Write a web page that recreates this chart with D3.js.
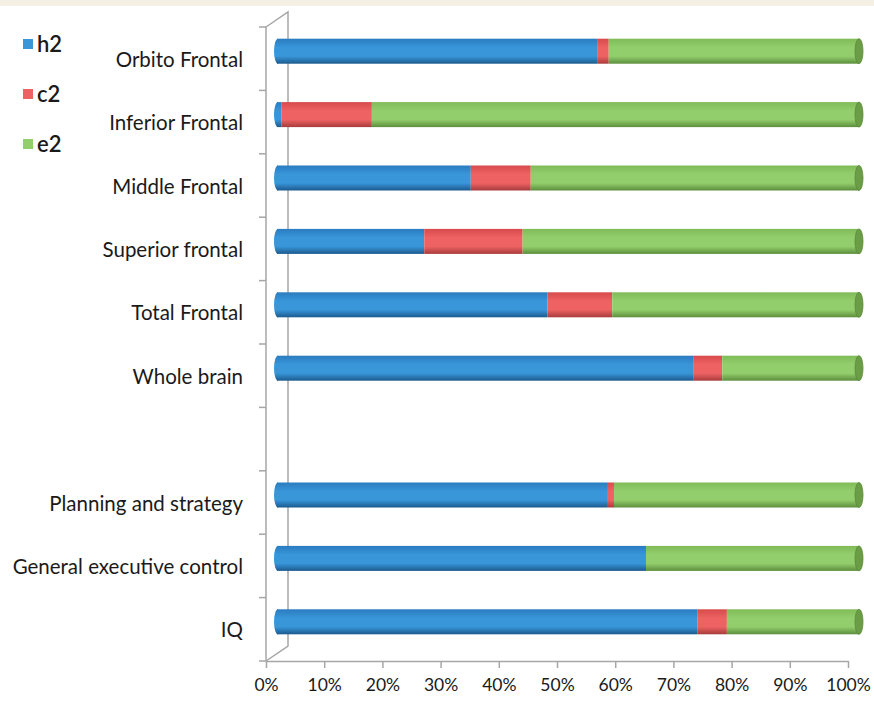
<!DOCTYPE html>
<html>
<head>
<meta charset="utf-8">
<script src="https://cdn.jsdelivr.net/npm/d3@7"></script>
<style>
  body { margin: 0; background: #fff; }
  svg { display: block; font-family: Lato, "Open Sans", sans-serif; }
</style>
</head>
<body>
<svg id="chart" width="874" height="703"></svg>
<script>
// values, in percent
var categories = ["Orbito Frontal", "Inferior Frontal", "Middle Frontal", "Superior frontal",
                  "Total Frontal", "Whole brain", "", "Planning and strategy",
                  "General executive control", "IQ"];
var h2 = [55.0, 0.8, 33.3, 25.3, 46.5, 71.5, 0, 56.7, 63.4, 72.2];
var c2 = [2.0, 15.5, 10.3, 16.9, 11.1, 5.0, 0, 1.2, 0.0, 5.1];
var e2 = [43.0, 83.7, 56.4, 57.8, 42.4, 23.5, 0, 42.1, 36.6, 22.7];
var seriesNames = ["h2", "c2", "e2"];
var xTicks = [0, 0.1, 0.2, 0.3, 0.4, 0.5, 0.6, 0.7, 0.8, 0.9, 1];

var svg = d3.select("#chart"),
    margin = {top: 27, right: 26, bottom: 42, left: 266},
    width = +svg.attr("width") - margin.left - margin.right,
    height = +svg.attr("height") - margin.top - margin.bottom;

// 3D depth of the plot box, bars sit half way in
var depth = {x: 22, y: -15};

var colors = {
  h2: {top: "#2a7cbf", mid: "#3896d9", bot: "#1c5a8e", cap: "#2a75b5"},
  c2: {top: "#d84a4c", mid: "#ee6263", bot: "#a83b3c", cap: "#d04a4b"},
  e2: {top: "#7fbb57", mid: "#93ce6c", bot: "#5c8e3c", cap: "#6a9d46"}
};

var table = categories.map(function(c, i) {
  return {name: c, blank: c === "", h2: h2[i], c2: c2[i], e2: e2[i]};
});

var stacked = d3.stack().keys(seriesNames).offset(d3.stackOffsetExpand)(
  table.filter(function(d) { return !d.blank; }));

// top beige strip
svg.append("rect").attr("x", 0).attr("y", 0).attr("width", 874).attr("height", 6)
    .attr("fill", "#f4f0e3");

var g = svg.append("g")
    .attr("transform", "translate(" + margin.left + "," + margin.top + ")");

var x = d3.scaleLinear().domain([0, 1]).range([0, width]);
var y = d3.scaleBand().domain(d3.range(categories.length)).range([0, height]);

// gradients for the cylinders
var defs = svg.append("defs");
seriesNames.forEach(function(k) {
  var gr = defs.append("linearGradient").attr("id", "grad-" + k)
      .attr("x1", 0).attr("y1", 0).attr("x2", 0).attr("y2", 1);
  gr.append("stop").attr("offset", "0%").attr("stop-color", colors[k].top);
  gr.append("stop").attr("offset", "35%").attr("stop-color", colors[k].mid);
  gr.append("stop").attr("offset", "70%").attr("stop-color", colors[k].mid);
  gr.append("stop").attr("offset", "100%").attr("stop-color", colors[k].bot);
});

var axisColor = "#a6a6a6";

// back wall edges
var wall = g.append("g").attr("fill", "none").attr("stroke", axisColor).attr("stroke-width", 1.5);
wall.append("path").attr("d", d3.line()([
  [0, 0], [depth.x, depth.y], [depth.x, height + depth.y], [0, height]
]));

// x axis
var xAxisCall = d3.axisBottom(x).tickValues(xTicks).tickSize(7).tickSizeOuter(0)
    .tickFormat(d3.format(".0%"));
var xAxis = g.append("g").attr("class", "x axis")
    .attr("transform", "translate(0," + height + ")")
    .call(xAxisCall);
xAxis.select(".domain").attr("stroke", axisColor).attr("stroke-width", 1.5);
xAxis.selectAll(".tick line").attr("stroke", axisColor).attr("stroke-width", 1.5);
xAxis.selectAll(".tick text").attr("y", 18).attr("dy", "0.71em")
    .attr("font-size", 17.5).attr("fill", "#1a1a1a").attr("font-family", "Lato, sans-serif");

// y axis line with ticks on category boundaries
var yAxis = g.append("g").attr("class", "y axis");
yAxis.append("line").attr("x1", 0).attr("x2", 0).attr("y1", 0).attr("y2", height)
    .attr("stroke", axisColor).attr("stroke-width", 1.5);
yAxis.selectAll(".ytick").data(d3.range(categories.length + 1)).enter()
  .append("line").attr("class", "ytick")
    .attr("x1", -7).attr("x2", 0)
    .attr("y1", function(i) { return i * y.step(); })
    .attr("y2", function(i) { return i * y.step(); })
    .attr("stroke", axisColor).attr("stroke-width", 1.5);

// category labels
g.append("g").selectAll(".text").data(table).enter()
  .append("text").attr("class", "text")
    .attr("x", -23)
    .attr("y", function(d, i) { return y(i) + y.bandwidth() / 2 + 1; })
    .attr("dy", "0.35em")
    .attr("text-anchor", "end")
    .attr("font-size", 20.5)
    .attr("fill", "#1a1a1a")
    .text(function(d) { return d.name; });

// bars
var barH = 25;
var bars = g.append("g").attr("transform", "translate(" + depth.x / 2 + "," + depth.y / 2 + ")");
var rowIndex = table.map(function(d, i) { return i; }).filter(function(i) { return !table[i].blank; });

function rowY(j) { return y(rowIndex[j]) + (y.bandwidth() - barH) / 2; }

var capRx = 4;

stacked.forEach(function(layer) {
  var k = layer.key;
  bars.selectAll(".bar-" + k).data(layer).enter()
    .append("rect").attr("class", "bar bar-" + k)
      .attr("x", function(d) { return x(d[0]); })
      .attr("y", function(d, j) { return rowY(j); })
      .attr("width", function(d) { return Math.max(0, x(d[1]) - x(d[0])); })
      .attr("height", barH)
      .attr("fill", "url(#grad-" + k + ")");
});

// rounded left ends take the colour of the first visible segment
bars.selectAll(".leftcap").data(stacked[0]).enter()
  .append("path").attr("class", "leftcap")
    .attr("d", function(d, j) {
      var y0 = rowY(j), x0 = x(0);
      return "M" + (x0 + 1) + "," + y0 + " A" + capRx + "," + (barH / 2) + " 0 0 0 " +
        (x0 + 1) + "," + (y0 + barH) + " Z";
    })
    .attr("fill", function(d, j) {
      var key = d[1] - d[0] > 0 ? "h2" : "c2";
      return "url(#grad-" + key + ")";
    });

// right end faces
bars.selectAll(".rightcap").data(stacked[2]).enter()
  .append("ellipse").attr("class", "rightcap")
    .attr("cx", function(d) { return x(d[1]); })
    .attr("cy", function(d, j) { return rowY(j) + barH / 2; })
    .attr("rx", capRx)
    .attr("ry", barH / 2)
    .attr("fill", colors.e2.cap)
    .attr("stroke", "#5a8a3a")
    .attr("stroke-width", 0.8);

// legend
var legend = svg.append("g").attr("transform", "translate(23,0)");
var legendY = [44, 94, 144];
seriesNames.forEach(function(k, i) {
  legend.append("rect").attr("x", 0).attr("y", legendY[i] - 5)
      .attr("width", 10).attr("height", 10).attr("fill", colors[k].mid);
  legend.append("text").attr("x", 14).attr("y", legendY[i]).attr("dy", "0.35em")
      .attr("font-size", 22).attr("font-weight", 600).attr("fill", "#1a1a1a")
      .text(k);
});
</script>
</body>
</html>
